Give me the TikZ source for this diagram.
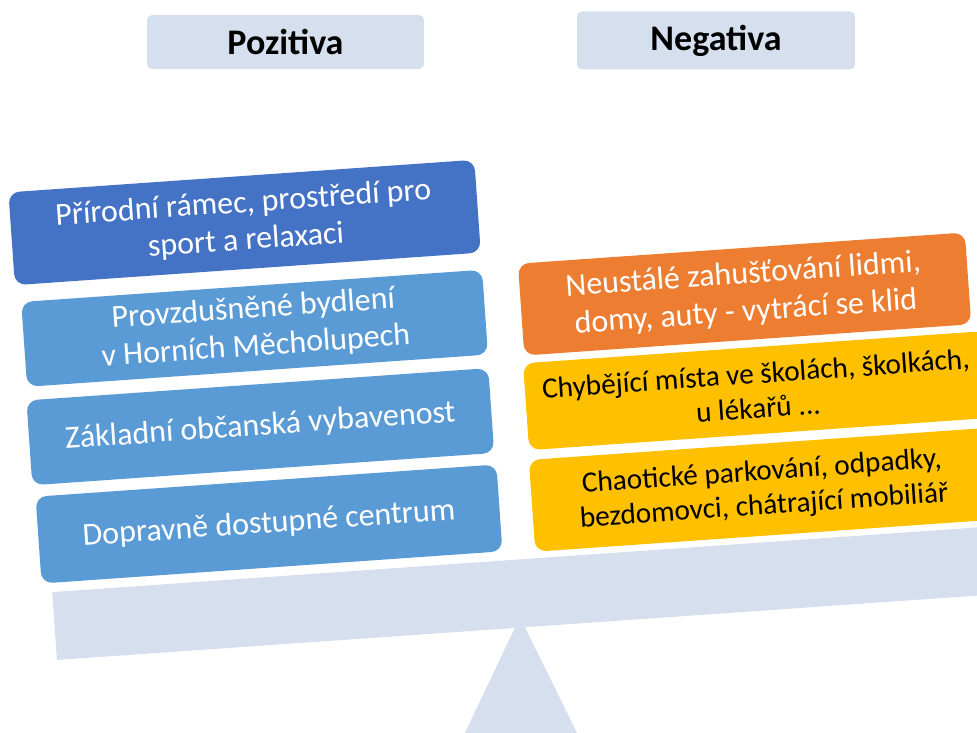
\documentclass[tikz,border=0pt]{standalone}
\usepackage{fontspec}
\setmainfont{Carlito}
\definecolor{darkblue}{HTML}{4472C4}
\definecolor{midblue}{HTML}{5B9BD5}
\definecolor{orng}{HTML}{ED7D31}
\definecolor{gold}{HTML}{FFC000}
\definecolor{pale}{HTML}{D5DFEE}
\begin{document}
\begin{tikzpicture}[x=1pt,y=1pt,
  card/.style={rounded corners=11pt, rotate=4, align=center, inner sep=0pt,
    font=\fontsize{32}{37.5}\selectfont},
  poscard/.style={card, fill=midblue, text=white},
  negcard/.style={card, fill=gold, text=black, font=\fontsize{29.3}{34.5}\selectfont},
  title/.style={fill=pale, rounded corners=5pt, inner sep=0pt,
    font=\bfseries\fontsize{36}{40}\selectfont}]
\clip (0,0) rectangle (977,733);
\useasboundingbox (0,0) rectangle (977,733);
% titles
\node[title, minimum width=277pt, minimum height=54pt] (pos) at (285.5,691) {Pozitiva};
\node[title, minimum width=278pt, minimum height=58pt] (neg) at (716,692.5) {Negativa};
% fulcrum and beam
\coordinate (apex) at (520,116);
\coordinate (bl) at (464,-2);
\coordinate (br) at (578,-2);
\fill[pale] (apex) -- (bl) -- (br) -- cycle;
\node[fill=pale, rotate=4, minimum width=950pt, minimum height=68pt, inner sep=0pt] (beam) at (528.4,140.1) {};
% positive cards
\node[card, fill=darkblue, text=white, minimum width=467pt, minimum height=93pt] (p1) at (244.6,510.5) {Přírodní rámec, prostředí pro\\sport a relaxaci};
\node[poscard, minimum width=462pt, minimum height=85pt] (p2) at (254.6,404.7) {Provzdušněné bydlení\\v Horních Měcholupech};
\node[poscard, minimum width=463pt, minimum height=85pt] (p3) at (260.3,306.3) {Základní občanská vybavenost};
\node[poscard, minimum width=462pt, minimum height=87pt] (p4) at (269,209) {Dopravně dostupné centrum};
% negative cards
\node[card, fill=orng, text=white, minimum width=448pt, minimum height=92pt] (n1) at (744.6,439) {Neustálé zahušťování lidmi,\\domy, auty - vytrácí se klid};
\node[negcard, minimum width=463pt, minimum height=87pt] (n2) at (757,342.4) {Chybějící místa ve školách, školkách,\\u lékařů ...};
\node[negcard, minimum width=463pt, minimum height=92pt] (n3) at (763,243.3) {Chaotické parkování, odpadky,\\bezdomovci, chátrající mobiliář};
\end{tikzpicture}
\end{document}
